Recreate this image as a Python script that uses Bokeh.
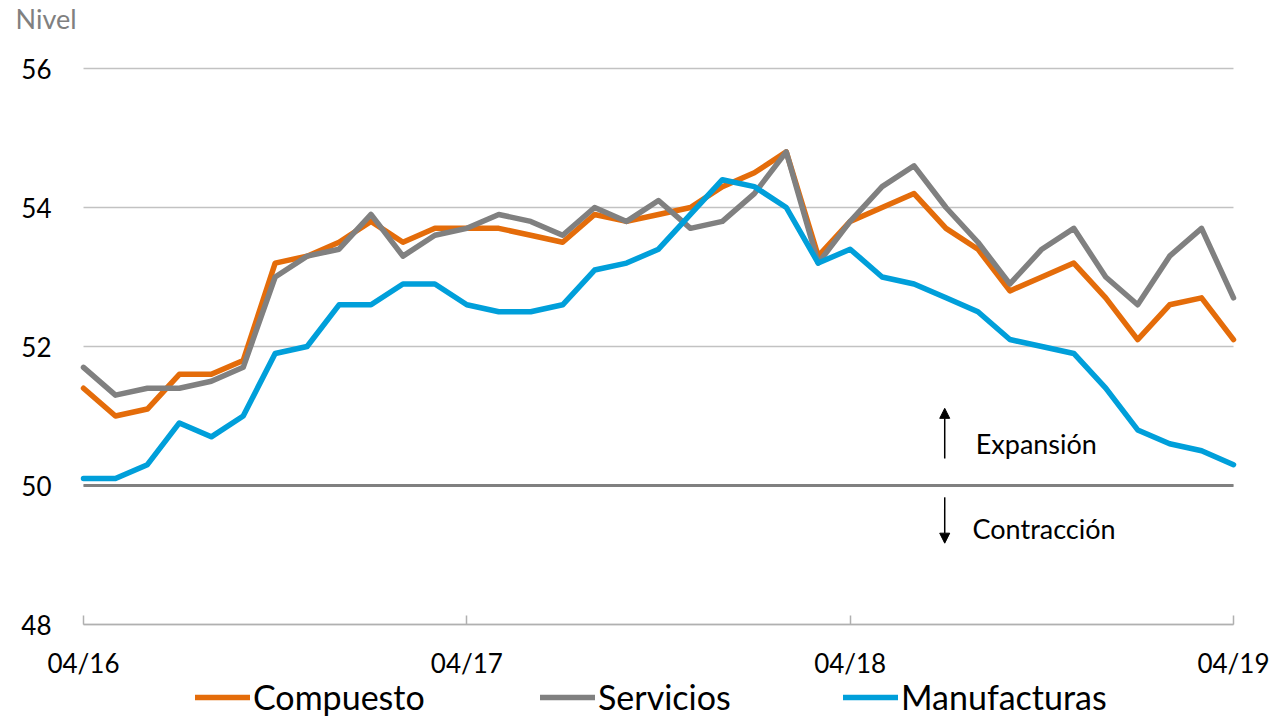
from bokeh.plotting import figure
from bokeh.models import (Range1d, FixedTicker, Grid, Label, Arrow, NormalHead,
                          Legend, LegendItem, ColumnDataSource)
from bokeh.embed import file_html
from bokeh.resources import INLINE

# ---- data (monthly, 04/2016 .. 04/2019) ----
months = list(range(37))
compuesto = [51.4, 51.0, 51.1, 51.6, 51.6, 51.8, 53.2, 53.3, 53.5, 53.8, 53.5, 53.7,
             53.7, 53.7, 53.6, 53.5, 53.9, 53.8, 53.9, 54.0, 54.3, 54.5, 54.8, 53.3,
             53.8, 54.0, 54.2, 53.7, 53.4, 52.8, 53.0, 53.2, 52.7, 52.1, 52.6, 52.7, 52.1]
servicios = [51.7, 51.3, 51.4, 51.4, 51.5, 51.7, 53.0, 53.3, 53.4, 53.9, 53.3, 53.6,
             53.7, 53.9, 53.8, 53.6, 54.0, 53.8, 54.1, 53.7, 53.8, 54.2, 54.8, 53.2,
             53.8, 54.3, 54.6, 54.0, 53.5, 52.9, 53.4, 53.7, 53.0, 52.6, 53.3, 53.7, 52.7]
manufacturas = [50.1, 50.1, 50.3, 50.9, 50.7, 51.0, 51.9, 52.0, 52.6, 52.6, 52.9, 52.9,
                52.6, 52.5, 52.5, 52.6, 53.1, 53.2, 53.4, 53.9, 54.4, 54.3, 54.0, 53.2,
                53.4, 53.0, 52.9, 52.7, 52.5, 52.1, 52.0, 51.9, 51.4, 50.8, 50.6, 50.5, 50.3]
x_ticks = [0, 12, 24, 36]
x_tick_labels = ["04/16", "04/17", "04/18", "04/19"]
y_ticks = [48, 50, 52, 54, 56]
baseline = [50]
series_names = ["Compuesto", "Servicios", "Manufacturas"]
colors = ["#E46C0A", "#808080", "#009FDA"]

FONT = "Lato"

# layout constants (pixels): where the data box sits on the canvas
W, H = 1284, 717
PX_L, PX_R, PX_T, PX_B = 83, 1233, 68, 624
X0, X1, Y0, Y1 = 0, 36, 48, 56
sx = (PX_R - PX_L) / (X1 - X0)
sy = (PX_B - PX_T) / (Y1 - Y0)
x_range = Range1d(X0 - PX_L / sx, X1 + (W - PX_R) / sx)
y_range = Range1d(Y0 - (H - PX_B) / sy, Y1 + PX_T / sy)

p = figure(width=W, height=H, output_backend="svg", toolbar_location=None,
           x_range=x_range, y_range=y_range,
           min_border_left=0, min_border_right=0, min_border_top=0,
           min_border_bottom=0)
p.outline_line_color = None
p.background_fill_color = "white"
p.border_fill_color = "white"

# grid (bounded to the data box)
p.xgrid.grid_line_color = None
p.ygrid.ticker = FixedTicker(ticks=y_ticks)
p.ygrid.grid_line_color = "#c2c2c2"
p.ygrid.grid_line_width = 1.5
p.ygrid.cross_bounds = (X0, X1)

# y axis at x = 0
p.yaxis.fixed_location = X0
p.yaxis.ticker = FixedTicker(ticks=y_ticks)
p.yaxis.axis_line_color = None
p.yaxis.major_tick_line_color = None
p.yaxis.minor_tick_line_color = None
p.yaxis.major_label_standoff = 26
p.yaxis.major_label_text_font = FONT
p.yaxis.major_label_text_font_size = "26px"
p.yaxis.major_label_text_color = "black"

# x axis at y = 48
p.xaxis.fixed_location = Y0
p.xaxis.bounds = (X0, X1)
p.xaxis.ticker = FixedTicker(ticks=x_ticks)
p.xaxis.major_label_overrides = {t: l for t, l in zip(x_ticks, x_tick_labels)}
p.xaxis.axis_line_color = "#b0b0b0"
p.xaxis.axis_line_width = 1.5
p.xaxis.major_tick_line_color = "#b0b0b0"
p.xaxis.major_tick_line_width = 1.5
p.xaxis.major_tick_in = 9
p.xaxis.major_tick_out = 0
p.xaxis.minor_tick_line_color = None
p.xaxis.major_label_standoff = 22
p.xaxis.major_label_text_font = FONT
p.xaxis.major_label_text_font_size = "26px"
p.xaxis.major_label_text_color = "black"

# baseline at 50 (expansion / contraction threshold)
base_grid = Grid(dimension=1, ticker=FixedTicker(ticks=baseline),
                 grid_line_color="#808080", grid_line_width=3, cross_bounds=(X0, X1))
p.add_layout(base_grid)

src = ColumnDataSource(dict(x=months, c=compuesto, s=servicios, m=manufacturas))
renderers = []
for col, color in zip(["c", "s", "m"], colors):
    r = p.line("x", col, source=src, line_color=color, line_width=5.5,
               line_join="round", line_cap="round")
    renderers.append(r)

# legends (one per item, below the axis)
legend_x = [195, 540, 843]
for name, r, lx in zip(series_names, renderers, legend_x):
    lg = Legend(items=[LegendItem(label=name, renderers=[r])], location=(lx, 0),
                orientation="horizontal", padding=0, margin=0, spacing=0,
                glyph_width=55, glyph_height=40, label_height=40, label_standoff=3,
                label_text_font=FONT, label_text_font_size="34px",
                label_text_color="black", border_line_color=None,
                background_fill_alpha=0)
    p.add_layout(lg, "center")

# annotations
p.add_layout(Label(x=X0 - 68 / sx, y=Y1 + 50 / sy, text="Nivel", text_font=FONT,
                   text_font_size="27px", text_color="#808080",
                   text_baseline="middle", text_align="left"))
p.add_layout(Arrow(x_start=26.96, y_start=50.39, x_end=26.96, y_end=51.11,
                   line_color="black", line_width=1.5,
                   end=NormalHead(size=10, fill_color="black", line_color="black")))
p.add_layout(Arrow(x_start=26.96, y_start=49.83, x_end=26.96, y_end=49.17,
                   line_color="black", line_width=1.5,
                   end=NormalHead(size=10, fill_color="black", line_color="black")))
p.add_layout(Label(x=27.93, y=50.6, text="Expansión", text_font=FONT,
                   text_font_size="27px", text_color="black",
                   text_baseline="middle", text_align="left"))
p.add_layout(Label(x=27.83, y=49.38, text="Contracción", text_font=FONT,
                   text_font_size="27px", text_color="black",
                   text_baseline="middle", text_align="left"))

open("out.html", "w").write(file_html(p, INLINE))
